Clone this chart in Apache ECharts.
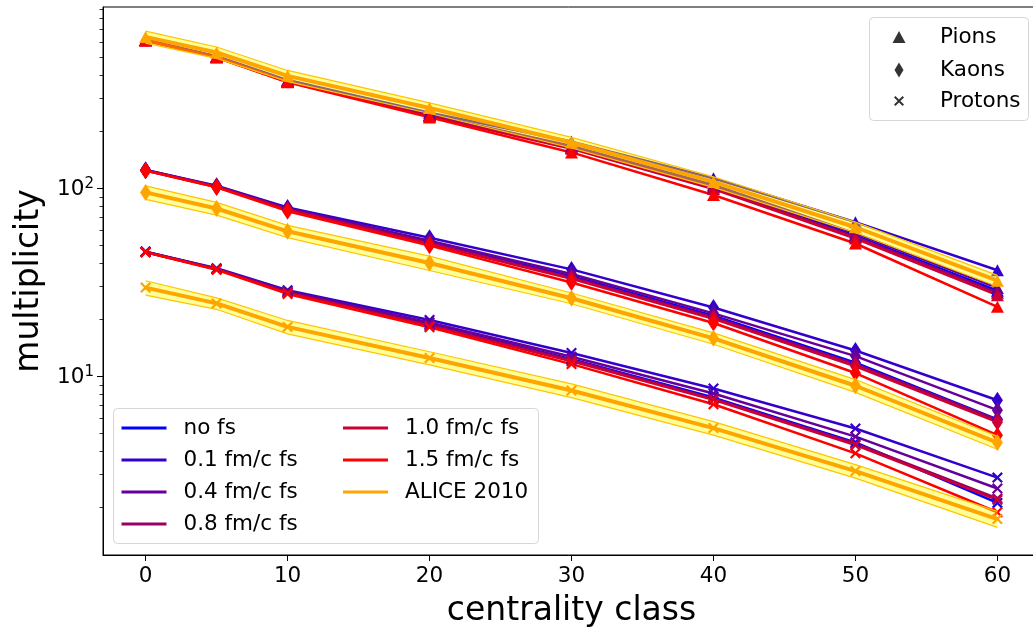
<!DOCTYPE html>
<html>
<head>
<meta charset="utf-8">
<script src="https://cdn.jsdelivr.net/npm/echarts@6/dist/echarts.min.js"></script>
<style>
  html, body { margin: 0; padding: 0; background: #ffffff; }
  #chart { width: 1033px; height: 633px; }
</style>
</head>
<body>
<div id="chart"></div>
<script>
// Centrality classes (lower edge of each class, %)
const centrality = [0, 5, 10, 20, 30, 40, 50, 60];
const xTickValues = [0, 10, 20, 30, 40, 50, 60];
const yMajorTicks = [10, 100];
const yMinorTicks = [2, 3, 4, 5, 6, 7, 8, 9, 20, 30, 40, 50, 60, 70, 80, 90, 200, 300, 400, 500, 600, 700, 800, 900];

// Model runs: no free streaming and several free-streaming times
const runNames = ['no fs', '0.1 fm/c fs', '0.4 fm/c fs', '0.8 fm/c fs', '1.0 fm/c fs', '1.5 fm/c fs'];
const runColors = ['#0000ff', '#3300cc', '#660099', '#990066', '#cc0033', '#ff0000'];

// Pion multiplicities
const pionsNoFs = [612, 499, 370, 244, 165, 102, 56, 28.5];
const pionsFs01 = [616, 503, 376, 252, 177, 113, 66, 36.6];
const pionsFs04 = [614, 501, 372, 246, 168, 104, 57.5, 29.5];
const pionsFs08 = [612, 498, 369, 243, 164, 101, 55, 27.8];
const pionsFs10 = [611, 497, 368, 241, 162, 99, 54, 27.0];
const pionsFs15 = [610, 495, 366, 238, 155, 92, 50.8, 23.4];

// Kaon multiplicities
const kaonsNoFs = [124.5, 102, 77.5, 51.5, 34.0, 21.0, 11.8, 5.9];
const kaonsFs01 = [125, 103, 79, 54.5, 37.0, 23.2, 13.7, 7.45];
const kaonsFs04 = [125, 102.5, 78, 52.5, 35.0, 21.6, 12.8, 6.6];
const kaonsFs08 = [124.5, 102, 77, 51, 33.5, 20.6, 11.6, 5.85];
const kaonsFs10 = [124, 101.5, 76.5, 50.5, 33.0, 20.2, 11.3, 5.7];
const kaonsFs15 = [124, 101, 75.5, 49.5, 31.5, 19.2, 10.4, 4.86];

// Proton multiplicities
const protonsNoFs = [45.8, 37.2, 28.0, 18.9, 12.3, 7.7, 4.45, 2.12];
const protonsFs01 = [46, 37.5, 28.7, 19.9, 13.3, 8.6, 5.27, 2.89];
const protonsFs04 = [46, 37.3, 28.3, 19.3, 12.7, 8.1, 4.77, 2.53];
const protonsFs08 = [45.8, 37.1, 27.9, 18.7, 12.2, 7.6, 4.39, 2.24];
const protonsFs10 = [45.7, 37.0, 27.7, 18.5, 12.0, 7.5, 4.3, 2.2];
const protonsFs15 = [45.6, 36.8, 27.4, 18.2, 11.6, 7.1, 3.89, 1.89];

// ALICE 2010 measurements and their uncertainties
const alicePions = [638, 527, 396, 267, 175, 108, 62, 32.2];
const alicePionsErr = [47, 37, 27, 17.4, 11.3, 7.0, 4.0, 2.2];
const aliceKaons = [95, 78, 59, 40, 26, 15.9, 8.9, 4.44];
const aliceKaonsErr = [7.8, 6.1, 4.4, 3.5, 1.7, 1.1, 0.7, 0.35];
const aliceProtons = [29.6, 24.4, 18.3, 12.5, 8.4, 5.3, 3.13, 1.74];
const aliceProtonsErr = [2.6, 1.7, 1.5, 1.0, 0.7, 0.44, 0.26, 0.17];

const FONT = 'DejaVu Sans';
const CROSS = 'path://M0,1.4L1.4,0L5,3.6L8.6,0L10,1.4L6.4,5L10,8.6L8.6,10L5,6.4L1.4,10L0,8.6L3.6,5Z';

const species = [
  { label: 'Pions', runs: [pionsNoFs, pionsFs01, pionsFs04, pionsFs08, pionsFs10, pionsFs15],
    alice: alicePions, err: alicePionsErr, symbol: 'triangle', size: [13, 12] },
  { label: 'Kaons', runs: [kaonsNoFs, kaonsFs01, kaonsFs04, kaonsFs08, kaonsFs10, kaonsFs15],
    alice: aliceKaons, err: aliceKaonsErr, symbol: 'diamond', size: [11, 17] },
  { label: 'Protons', runs: [protonsNoFs, protonsFs01, protonsFs04, protonsFs08, protonsFs10, protonsFs15],
    alice: aliceProtons, err: aliceProtonsErr, symbol: CROSS, size: [11, 11] }
];

const series = [];

// model curves
runNames.forEach((name, k) => {
  species.forEach(sp => {
    series.push({
      type: 'line',
      name: name,
      data: centrality.map((x, i) => [x, sp.runs[k][i]]),
      symbol: sp.symbol,
      symbolSize: sp.size,
      showSymbol: true,
      itemStyle: { color: runColors[k] },
      lineStyle: { color: runColors[k], width: 2.5 },
      emphasis: { disabled: true },
      z: 2
    });
  });
});

// ALICE uncertainty bands
species.forEach(sp => {
  series.push({
    type: 'custom',
    name: 'ALICE 2010 uncertainty',
    coordinateSystem: 'cartesian2d',
    silent: true,
    data: centrality.map((x, i) => [x, sp.alice[i] - sp.err[i], sp.alice[i] + sp.err[i]]),
    encode: { x: 0, y: [1, 2] },
    renderItem: (params, api) => {
      if (params.dataIndex !== 0) return null;
      const n = centrality.length;
      const lo = [], hi = [];
      for (let i = 0; i < n; i++) {
        lo.push(api.coord([api.value(0, i), api.value(1, i)]));
        hi.push(api.coord([api.value(0, i), api.value(2, i)]));
      }
      return {
        type: 'group',
        children: [
          { type: 'polygon', shape: { points: lo.concat(hi.slice().reverse()) },
            style: { fill: 'rgba(255,255,0,0.4)', stroke: null } },
          { type: 'polyline', shape: { points: lo },
            style: { fill: null, stroke: '#ffc400', lineWidth: 1.2 } },
          { type: 'polyline', shape: { points: hi },
            style: { fill: null, stroke: '#ffc400', lineWidth: 1.2 } }
        ]
      };
    },
    z: 3
  });
});

// ALICE central values
species.forEach(sp => {
  series.push({
    type: 'line',
    name: 'ALICE 2010',
    data: centrality.map((x, i) => [x, sp.alice[i]]),
    symbol: sp.symbol,
    symbolSize: sp.size,
    showSymbol: true,
    itemStyle: { color: '#ffa500' },
    lineStyle: { color: '#ffa500', width: 4 },
    emphasis: { disabled: true },
    z: 4
  });
});

// marker-only entries naming the particle species
species.forEach(sp => {
  series.push({
    type: 'scatter',
    name: sp.label,
    data: [],
    symbol: sp.symbol,
    itemStyle: { color: '#000000' }
  });
});

const legendText = { fontFamily: FONT, fontSize: 21.5, lineHeight: 24, color: '#000000' };

function runLegend(names, left) {
  return {
    orient: 'vertical', left: left, top: 416, padding: 0,
    itemWidth: 45, itemHeight: 3, itemGap: 8,
    icon: 'rect', selectedMode: false, z: 11,
    textStyle: Object.assign({ padding: [0, 0, 0, 12] }, legendText),
    data: names
  };
}

function markerLegend(name, icon, w, h, left, top, pad) {
  return {
    orient: 'vertical', left: left, top: top, padding: 0,
    itemWidth: w, itemHeight: h, icon: icon, selectedMode: false, z: 11,
    textStyle: Object.assign({ padding: [0, 0, 0, pad] }, legendText),
    data: [name]
  };
}

const option = {
  animation: false,
  backgroundColor: '#ffffff',
  textStyle: { fontFamily: FONT },
  grid: {
    left: 103, top: 7, width: 937, height: 548,
    show: true, borderColor: '#000000', borderWidth: 1,
    backgroundColor: 'transparent',
    outerBoundsMode: 'none', containLabel: false
  },
  xAxis: {
    type: 'value', min: -3, max: 63,
    name: 'centrality class', nameLocation: 'middle', nameGap: 40,
    nameTextStyle: { fontFamily: FONT, fontSize: 33, color: '#000000' },
    axisLine: { show: true, onZero: false, lineStyle: { color: '#000000', width: 1 } },
    axisTick: { show: true, inside: false, length: 6, customValues: xTickValues,
      lineStyle: { color: '#000000', width: 1 } },
    axisLabel: { show: true, customValues: xTickValues, margin: 10,
      fontFamily: FONT, fontSize: 21.5, color: '#000000' },
    splitLine: { show: false }
  },
  yAxis: [
    {
      type: 'log', logBase: 10, min: 1.12, max: 920,
      position: 'left',
      name: 'multiplicity', nameLocation: 'middle', nameGap: 52,
      nameTextStyle: { fontFamily: FONT, fontSize: 33, color: '#000000' },
      axisLine: { show: true, onZero: false, lineStyle: { color: '#000000', width: 1 } },
      axisTick: { show: true, inside: false, length: 6, customValues: yMajorTicks,
        lineStyle: { color: '#000000', width: 1 } },
      axisLabel: {
        show: true, customValues: yMajorTicks, margin: 9, color: '#000000',
        formatter: v => '{b|10}{s|' + Math.round(Math.log10(v)) + '}',
        rich: {
          b: { fontFamily: FONT, fontSize: 21.5, lineHeight: 24, verticalAlign: 'bottom', color: '#000000' },
          s: { fontFamily: FONT, fontSize: 15, lineHeight: 15, verticalAlign: 'top', color: '#000000' }
        }
      },
      splitLine: { show: false },
      minorTick: { show: false }
    },
    {
      type: 'log', logBase: 10, min: 1.12, max: 920,
      position: 'left', offset: 0,
      axisLine: { show: false, onZero: false },
      axisTick: { show: true, inside: false, length: 3.5, customValues: yMinorTicks,
        lineStyle: { color: '#000000', width: 0.8 } },
      axisLabel: { show: false },
      splitLine: { show: false }
    }
  ],
  legend: [
    runLegend(runNames.slice(0, 4), 121.5),
    runLegend([runNames[4], runNames[5], 'ALICE 2010'], 343),
    markerLegend('Pions', 'triangle', 13, 12, 892.5, 25, 29.5),
    markerLegend('Kaons', 'diamond', 9, 15, 894.5, 58, 31.5),
    markerLegend('Protons', CROSS, 10, 10, 894, 89, 31)
  ],
  graphic: [
    { type: 'rect', z: 10, shape: { x: 113.5, y: 408.5, width: 425, height: 135, r: 4 },
      style: { fill: 'rgba(255,255,255,0.8)', stroke: '#d6d6d6', lineWidth: 1 } },
    { type: 'rect', z: 10, shape: { x: 869.5, y: 17.5, width: 159, height: 103, r: 4 },
      style: { fill: 'rgba(255,255,255,0.8)', stroke: '#d6d6d6', lineWidth: 1 } }
  ],
  series: series
};

const chart = echarts.init(document.getElementById('chart'), null, { renderer: 'canvas' });
chart.setOption(option);
</script>
</body>
</html>
